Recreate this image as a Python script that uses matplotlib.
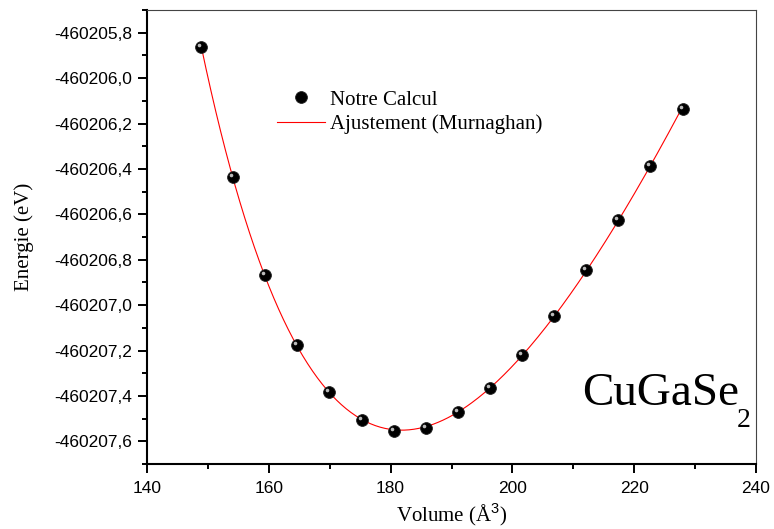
import numpy as np
import matplotlib
matplotlib.use("Agg")
import matplotlib.pyplot as plt
from matplotlib.ticker import MultipleLocator, FuncFormatter
from matplotlib.transforms import offset_copy

plt.rcParams['font.family'] = ['Liberation Serif', 'DejaVu Serif']
plt.rcParams['mathtext.fontset'] = 'custom'
plt.rcParams['mathtext.rm'] = 'Liberation Serif'
plt.rcParams['mathtext.sf'] = 'Liberation Sans'

# volume (A^3) and total energy (eV)
volume = [148.9, 154.1, 159.4, 164.6, 169.9, 175.3, 180.6, 185.8,
          191.1, 196.3, 201.6, 206.8, 212.1, 217.3, 222.6, 228.0]
energy = [-460205.862, -460206.436, -460206.868, -460207.177, -460207.385,
          -460207.504, -460207.553, -460207.540, -460207.473, -460207.367,
          -460207.222, -460207.049, -460206.846, -460206.626, -460206.387,
          -460206.136]

xlim = (140, 240)
ylim = (-460207.70, -460205.70)


def murnaghan_fit(v, e):
    # least squares: linear in E0, B0 for fixed V0, B0'
    v = np.asarray(v)
    e = np.asarray(e)
    eref = e.min()
    de = e - eref
    best = None
    for v0 in np.linspace(170, 195, 251):
        for bp in np.linspace(1.5, 10, 171):
            f = v / bp * ((v0 / v) ** bp / (bp - 1) + 1) - v0 / (bp - 1)
            a = np.column_stack([np.ones_like(v), f])
            coef, res, _, _ = np.linalg.lstsq(a, de, rcond=None)
            r = np.sum((a @ coef - de) ** 2)
            if best is None or r < best[0]:
                best = (r, v0, bp, coef)
    _, v0, bp, coef = best

    def func(x):
        f = x / bp * ((v0 / x) ** bp / (bp - 1) + 1) - v0 / (bp - 1)
        return eref + coef[0] + coef[1] * f
    return func


def main():
    fig = plt.figure(figsize=(7.74, 5.29), dpi=100)
    ax = fig.add_axes([0.19, 0.1229, 0.7867, 0.8581])

    fit = murnaghan_fit(volume, energy)
    vv = np.linspace(min(volume), max(volume), 300)
    ax.plot(vv, fit(vv), color='red', lw=0.8, zorder=2,
            label='Ajustement (Murnaghan)')

    pts, = ax.plot(volume, energy, 'o', color='black', ms=8.5, mec='#222222',
                   mew=0.6, zorder=3, label='Notre Calcul')
    # small highlight on each sphere
    hl = offset_copy(ax.transData, fig=fig, x=-2.0, y=2.0, units='dots')
    ax.plot(volume, energy, 'o', color='#bbbbbb', ms=2.6, mew=0,
            transform=hl, zorder=4)

    ax.set_xlim(*xlim)
    ax.set_ylim(*ylim)
    ax.xaxis.set_major_locator(MultipleLocator(20))
    ax.xaxis.set_minor_locator(MultipleLocator(10))
    ax.yaxis.set_major_locator(MultipleLocator(0.2))
    ax.yaxis.set_minor_locator(MultipleLocator(0.1))
    ax.yaxis.set_major_formatter(
        FuncFormatter(lambda v, p: f"{v:.1f}".replace('.', ',')))

    ax.tick_params(which='both', direction='out', top=False, right=False,
                   width=1.4, labelsize=12.5, labelfontfamily='Liberation Sans')
    ax.tick_params(which='major', length=6.5)
    ax.tick_params(axis='y', which='major', pad=4.5)
    ax.tick_params(axis='x', which='major', pad=5.5)
    ax.tick_params(which='minor', length=3.5)
    for s in ('left', 'bottom'):
        ax.spines[s].set_linewidth(1.5)
    for s in ('top', 'right'):
        ax.spines[s].set_linewidth(0.8)
        ax.spines[s].set_color('#444444')

    ax.set_xlabel(r'Volume (Å$^{\mathsf{3}}$)', fontsize=15, labelpad=4)
    ax.set_ylabel('Energie (eV)', fontsize=15, labelpad=14)

    handles = [pts, ax.lines[0]]
    ax.legend(handles, [h.get_label() for h in handles],
              loc='upper left', bbox_to_anchor=(0.2135, 0.824),
              frameon=False, fontsize=15, handlelength=2.3,
              handletextpad=0.25, labelspacing=0.25, borderpad=0,
              borderaxespad=0, numpoints=1)

    t = ax.text(0.714, 0.130, 'CuGaSe', transform=ax.transAxes,
                fontsize=34, ha='left', va='baseline')
    ax.annotate('2', xy=(1, 0), xycoords=t, xytext=(-1.5, -9),
                textcoords='offset points', fontsize=20,
                ha='left', va='baseline')

    fig.savefig('out.png', dpi=100)


if __name__ == '__main__':
    main()
